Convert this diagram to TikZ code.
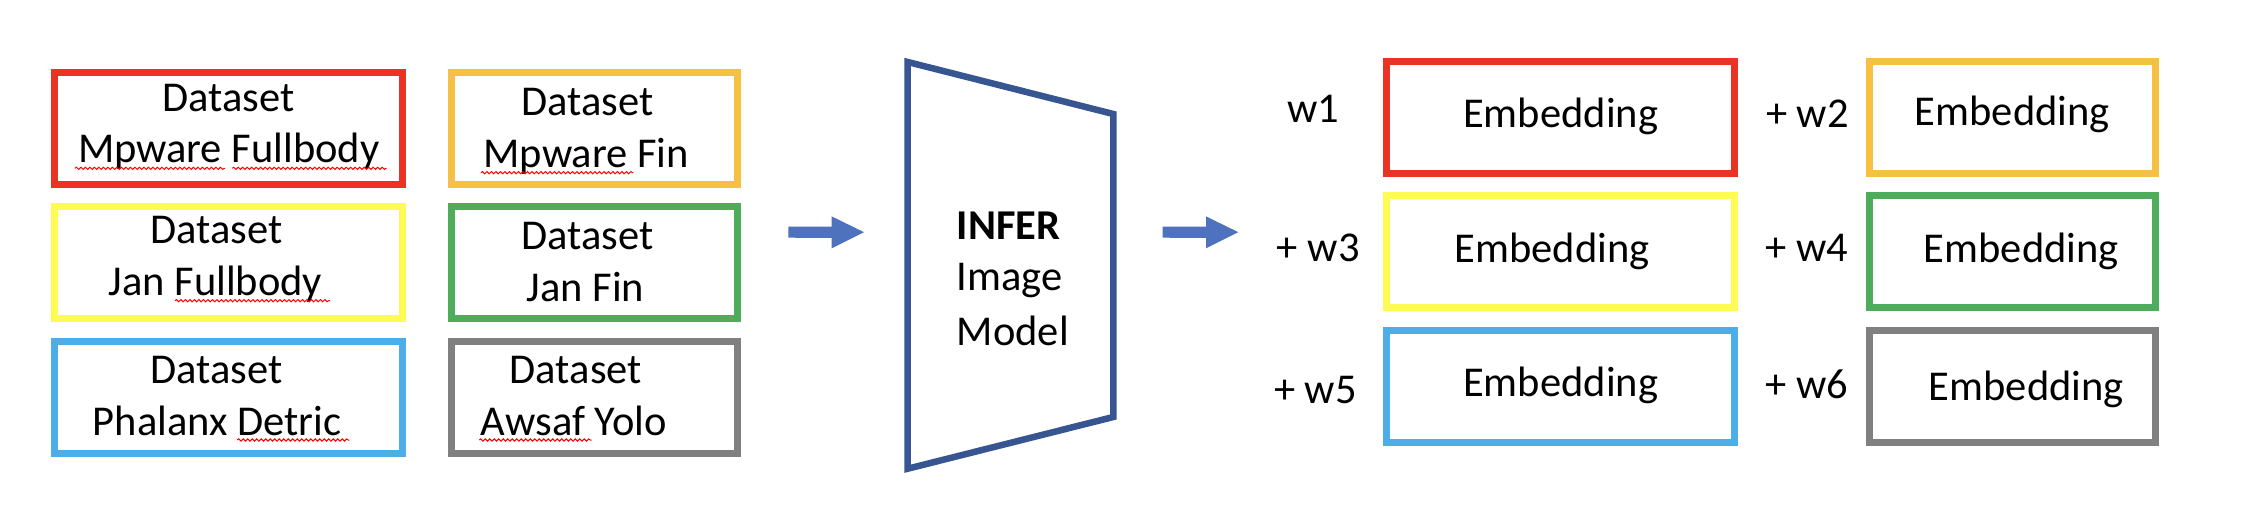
\documentclass[tikz,border=0pt]{standalone}
\usepackage{fontspec}
\setmainfont{Carlito}
\usetikzlibrary{decorations.pathmorphing}
\definecolor{cred}{RGB}{234,51,35}
\definecolor{cgold}{RGB}{246,192,67}
\definecolor{cyel}{RGB}{255,251,85}
\definecolor{cgreen}{RGB}{78,172,91}
\definecolor{cblue}{RGB}{77,173,232}
\definecolor{cgray}{RGB}{128,128,128}
\definecolor{cdblue}{RGB}{55,86,145}
\definecolor{carrow}{RGB}{78,114,190}
\tikzset{
  dbox/.style={draw=#1, line width=6.7pt, inner sep=0pt, minimum height=111.6pt},
  wideL/.style={minimum width=348.2pt},
  narrowL/.style={minimum width=285.7pt},
  wideR/.style={minimum width=347.7pt},
  narrowR/.style={minimum width=286.3pt},
  txt/.style={anchor=base, inner sep=0pt, font=\fontsize{42.5}{51}\selectfont},
  wtxt/.style={anchor=base west, inner sep=0pt, font=\fontsize{42.5}{51}\selectfont},
  squig/.style={draw=red, line width=1pt, decorate, decoration={snake, segment length=4.5pt, amplitude=1.1pt}},
  blockarrow/.style={fill=carrow, draw=none},
}
\begin{document}
\begin{tikzpicture}[x=1pt,y=-1pt]
\useasboundingbox[fill=white] (0,0) rectangle (2256,524);
% left datasets
\node[dbox=cred, wideL] (d1) at (228.5,128.5) {};
\node[dbox=cyel, wideL] (d3) at (228.5,262.5) {};
\node[dbox=cblue, wideL] (d5) at (228.5,397.5) {};
\node[dbox=cgold, narrowL] (d2) at (594.5,128.5) {};
\node[dbox=cgreen, narrowL] (d4) at (594.5,262.5) {};
\node[dbox=cgray, narrowL] (d6) at (594.5,397.5) {};
\node[txt] (d1a) at (228.7,111.7) {Dataset};
\node[txt] (d1b) at (228.7,162.7) {Mpware Fullbody};
\node[txt] (d3a) at (216.7,243.3) {Dataset};
\node[txt] (d3b) at (215.5,295) {Jan Fullbody};
\node[txt] (d5a) at (216.7,383.3) {Dataset};
\node[txt] (d5b) at (217,435) {Phalanx Detric};
\node[txt] (d2a) at (587.5,116) {Dataset};
\node[txt] (d2b) at (586.3,167.7) {Mpware Fin};
\node[txt] (d4a) at (587.5,249.3) {Dataset};
\node[txt] (d4b) at (585.5,301) {Jan Fin};
\node[txt] (d6a) at (575.8,383.3) {Dataset};
\node[txt] (d6b) at (574,435) {Awsaf Yolo};
% spell-check squiggles
\draw[squig] (75,168.3) -- (225,168.3);
\draw[squig] (232.3,168.3) -- (386.7,168.3);
\draw[squig] (175,300.7) -- (330,300.7);
\draw[squig] (237.3,440) -- (349.3,440);
\draw[squig] (481,172.7) -- (633.3,172.7);
\draw[squig] (479.3,440) -- (591.7,440);
% arrow 1
\coordinate (a1s) at (788.3,232.2);
\fill[blockarrow] (a1s) ++(0,-5.5) -- ++(43.4,0) -- ++(0,-10.3) -- (864,232.2) -- (831.7,248.3) -- ++(0,-10.3) -- (788.3,237.7) -- cycle;
% model
\draw[cdblue, line width=6.5pt, line join=miter] (907.7,62) coordinate (m1) -- (1113.3,114) coordinate (m2) -- (1113.3,417) coordinate (m3) -- (907.7,468.7) coordinate (m4) -- cycle;
\node[wtxt, font=\fontsize{42.5}{51}\selectfont\bfseries] (infer) at (956.7,239) {INFER};
\node[wtxt] (image) at (956.7,290.7) {Image};
\node[wtxt] (model) at (956.7,345) {Model};
% arrow 2
\coordinate (a2s) at (1162.7,232.2);
\fill[blockarrow] (a2s) ++(0,-5.5) -- ++(43.3,0) -- ++(0,-10.3) -- (1238.3,232.2) -- (1206,248.3) -- ++(0,-10.3) -- (1162.7,237.7) -- cycle;
% embeddings
\node[dbox=cred, wideR] (e1) at (1560.5,117.5) {};
\node[dbox=cyel, wideR] (e3) at (1560.5,251.5) {};
\node[dbox=cblue, wideR] (e5) at (1560.5,386.5) {};
\node[dbox=cgold, narrowR] (e2) at (2012.5,117.5) {};
\node[dbox=cgreen, narrowR] (e4) at (2012.5,251.5) {};
\node[dbox=cgray, narrowR] (e6) at (2012.5,386.5) {};
\node[txt] (e1t) at (1560.7,127.3) {Embedding};
\node[txt] (e3t) at (1552.2,262.3) {Embedding};
\node[txt] (e5t) at (1560.7,396.7) {Embedding};
\node[txt] (e2t) at (2012.3,125) {Embedding};
\node[txt] (e4t) at (2021.3,262.7) {Embedding};
\node[txt] (e6t) at (2026.3,400.7) {Embedding};
% weights
\node[wtxt] (w1) at (1287.3,122.8) {w1};
\node[wtxt] (w3) at (1276.7,261.7) {+ w3};
\node[wtxt] (w5) at (1274,403.3) {+ w5};
\node[wtxt] (w2) at (1766,127.3) {+ w2};
\node[wtxt] (w4) at (1765.3,261.7) {+ w4};
\node[wtxt] (w6) at (1765.3,398.3) {+ w6};
\end{tikzpicture}
\end{document}
